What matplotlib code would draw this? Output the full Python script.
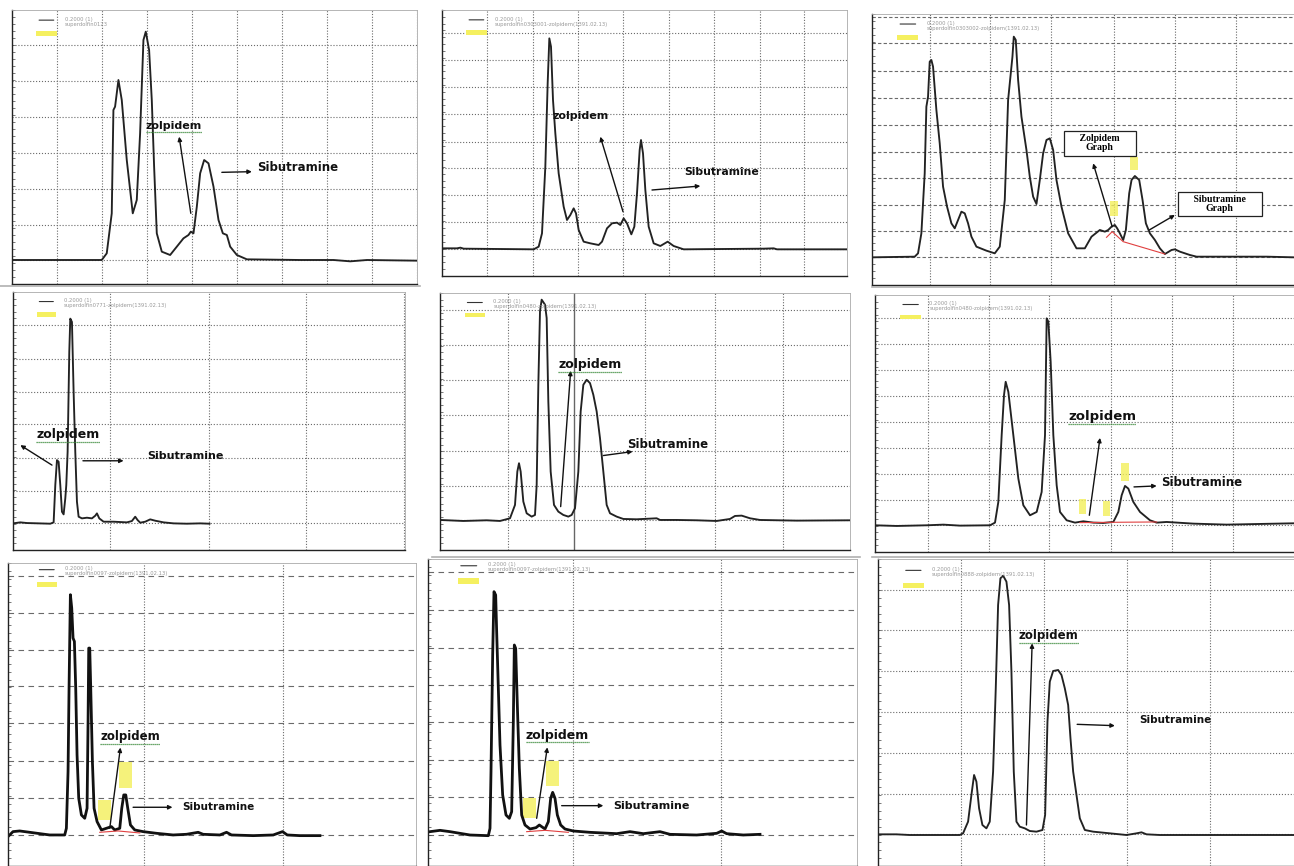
import numpy as np
import matplotlib.pyplot as plt
from matplotlib.patches import Rectangle
from matplotlib.lines import Line2D

# retention time (arbitrary units) and detector signal
t1 = [36, 305, 320, 335, 340, 345, 355, 365, 380, 398, 410, 420, 430, 437, 447, 455, 462, 470, 485, 510,
      530, 550, 565, 572, 580, 590, 600, 612, 625, 640, 655, 668, 680, 690, 710, 740, 900, 1000, 1050, 1100, 1250]
s1 = [0, 0, 20, 140, 450, 460, 540, 480, 300, 140, 180, 380, 660, 685, 630, 480, 280, 80, 25, 15,
      40, 65, 75, 85, 80, 160, 260, 300, 290, 220, 120, 80, 75, 40, 15, 2, 0, 0, -4, 0, -2]

t2 = [35, 80, 90, 100, 310, 325, 335, 345, 352, 357, 362, 368, 375, 385, 400, 410, 420, 430, 437, 445,
      460, 480, 505, 515, 530, 545, 560, 570, 580, 590, 603, 612, 620, 628, 632, 638, 645, 655, 670, 690,
      712, 730, 760, 1000, 1030, 1040, 1250]
s2 = [3, 3, 5, 2, 0, 8, 48, 248, 498, 633, 608, 448, 348, 228, 128, 88, 103, 123, 108, 58,
      23, 18, 13, 23, 63, 78, 80, 73, 93, 78, 45, 68, 168, 298, 328, 288, 178, 68, 18, 10,
      23, 10, 0, 2, 3, 0, 0]

t3 = [37, 165, 175, 185, 195, 200, 205, 210, 215, 220, 230, 240, 250, 262, 275, 285, 295, 305, 315, 325,
      335, 350, 380, 405, 420, 435, 445, 450, 458, 462, 468, 475, 485, 500, 510, 520, 530, 540, 550, 560,
      570, 580, 590, 605, 625, 650, 675, 695, 720, 735, 745, 755, 765, 772, 780, 790, 798, 808, 815, 825,
      838, 848, 858, 870, 885, 900, 915, 935, 945, 960, 990, 1010, 1100, 1220, 1302]
s3 = [-2, 0, 10, 70, 250, 450, 480, 585, 590, 570, 440, 340, 210, 150, 100, 85, 110, 135, 130, 100,
      60, 30, 18, 10, 30, 170, 470, 520, 600, 660, 650, 530, 420, 320, 240, 180, 158, 230, 310, 350,
      355, 320, 230, 150, 70, 25, 25, 60, 80, 75, 80, 90, 95, 85, 70, 50, 80, 190, 230, 242,
      230, 170, 100, 70, 50, 25, 8, 20, 22, 15, 5, 0, 0, 0, -2]
base3_t = [740, 757, 790, 915]
base3_s = [58, 75, 45, 8]

t4 = [38, 60, 80, 150, 160, 165, 170, 175, 180, 185, 190, 195, 198, 202, 207, 210, 215, 220, 225, 230,
      235, 245, 260, 275, 285, 290, 297, 310, 340, 380, 395, 405, 412, 420, 435, 450, 465, 490, 520, 560,
      600, 628]
s4 = [0, 3, 1, -1, 3, 115, 190, 185, 115, 35, 27, 75, 115, 215, 515, 615, 605, 395, 215, 65,
      20, 15, 17, 15, 23, 30, 15, 5, 5, 3, 7, 20, 10, 2, 5, 12, 8, 3, 0, -1,
      0, -1]

t5 = [30, 100, 170, 210, 240, 255, 262, 267, 272, 280, 290, 305, 315, 320, 325, 330, 335, 345, 350, 355,
      362, 372, 385, 400, 415, 425, 435, 445, 452, 460, 470, 480, 490, 500, 510, 520, 530, 540, 560, 580,
      620, 680, 690, 740, 800, 860, 900, 915, 935, 960, 990, 1100, 1260]
s5 = [0, -3, -1, -3, 5, 45, 145, 170, 145, 55, 20, 10, 15, 105, 405, 625, 660, 645, 605, 355,
      145, 45, 25, 15, 10, 15, 35, 145, 325, 405, 420, 410, 375, 325, 245, 145, 45, 20, 10, 3,
      2, 5, 0, 0, -1, -3, 3, 12, 13, 5, 0, -2, -1]

t6 = [45, 110, 200, 250, 300, 390, 405, 415, 425, 432, 437, 445, 460, 475, 490, 510, 530, 545, 555, 560,
      565, 572, 580, 590, 600, 620, 645, 670, 700, 730, 760, 775, 785, 795, 805, 820, 840, 870, 890, 920,
      1000, 1100, 1200, 1302]
s6 = [0, -2, 0, 2, -1, 0, 8, 70, 270, 390, 430, 400, 270, 140, 60, 30, 40, 100, 270, 620,
      610, 490, 270, 120, 40, 15, 8, 12, 8, 7, 10, 40, 90, 118, 110, 70, 40, 15, 8, 10,
      5, 2, 4, 6]
base6_t = [660, 760, 890]
base6_s = [8, 9, 10]

t7 = [25, 40, 60, 90, 150, 195, 200, 205, 208, 212, 216, 220, 224, 228, 232, 237, 245, 255, 262, 265,
      267, 270, 273, 278, 283, 292, 305, 320, 335, 345, 360, 366, 372, 378, 384, 392, 405, 430, 470, 520,
      560, 595, 610, 660, 680, 695, 760, 820, 848, 862, 900, 960]
s7 = [-5, 10, 12, 8, 0, 0, 20, 190, 440, 720, 680, 590, 580, 440, 240, 110, 60, 50, 80, 340,
      560, 560, 440, 220, 80, 40, 15, 20, 25, 15, 20, 80, 120, 120, 80, 30, 15, 10, 5, 0,
      2, 8, 2, 0, 8, 0, -2, 0, 10, 0, -2, -2]
base7_t = [300, 355, 420]
base7_s = [8, 12, 6]

t8 = [0, 30, 60, 120, 175, 180, 183, 188, 192, 197, 200, 205, 210, 218, 228, 238, 245, 250, 253, 257,
      262, 268, 275, 285, 300, 318, 328, 345, 355, 362, 368, 375, 382, 392, 405, 430, 480, 560, 600, 640,
      690, 720, 800, 860, 875, 890, 940, 990]
s8 = [10, 14, 10, 0, -2, 20, 190, 540, 730, 720, 610, 440, 270, 120, 60, 50, 70, 340, 570, 560,
      390, 200, 60, 30, 18, 22, 30, 18, 40, 110, 128, 110, 60, 30, 18, 12, 8, 4, 10, 4,
      10, 2, 0, 5, 12, 4, 0, 2]
base8_t = [290, 345, 415]
base8_s = [10, 14, 8]

t9 = [55, 110, 150, 200, 300, 310, 325, 335, 343, 350, 358, 368, 380, 390, 400, 408, 415, 422, 430, 440,
      448, 455, 462, 470, 480, 495, 510, 530, 548, 556, 563, 570, 580, 595, 605, 615, 625, 632, 640, 650,
      660, 675, 700, 750, 800, 830, 845, 860, 900, 1000, 1100, 1302]
s9 = [0, 0, -2, -2, -2, 3, 38, 118, 178, 158, 78, 28, 18, 38, 188, 438, 688, 768, 776, 758,
      688, 488, 188, 38, 23, 18, 10, 8, 13, 58, 338, 458, 490, 493, 478, 438, 388, 288, 188, 118,
      48, 13, 8, 3, -2, 3, 6, 0, -2, -2, -2, -2]

legend_names = ['superdolfin0123', 'superdolfin0303001-zolpidem(1391.02.13)',
                'superdolfin0303002-zolpidem(1391.02.13)', 'superdolfin0771-zolpidem(1391.02.13)',
                'superdolfin0480-zolpidem(1391.02.13)', 'superdolfin0480-zolpidem(1391.02.13)',
                'superdolfin0097-zolpidem(1391.02.13)', 'superdolfin0097-zolpidem(1391.02.13)',
                'superdolfin0888-zolpidem(1391.02.13)']

W, H = 1294, 866
fig = plt.figure(figsize=(W / 100, H / 100), dpi=100)
plt.rcParams['font.family'] = ['DejaVu Sans']

# thin separators left over from the montage
for x0, x1, y in [(0, 420, 286), (432, 860, 557), (872, 1294, 557), (872, 1294, 287)]:
    fig.add_artist(Line2D([x0 / W, x1 / W], [1 - y / H, 1 - y / H], color='#b0b0b0', lw=1.2))


def make_ax(box, xlim, ylim, xgrid, ygrid, dash='dotted'):
    x0, x1, y0, y1 = box
    ax = fig.add_axes([x0 / W, 1 - y1 / H, (x1 - x0) / W, (y1 - y0) / H])
    ax.set_xlim(*xlim)
    ax.set_ylim(*ylim)
    for g in xgrid:
        ax.axvline(g, color='#6a6a6a', lw=0.8, ls=(0, (1, 1.5)), zorder=0)
    for g in ygrid:
        ax.axhline(g, color='#6a6a6a', lw=0.8, ls=dash, zorder=0)
    ax.set_xticks([])
    ax.set_yticks(np.linspace(ylim[0], ylim[1], 40), minor=True)
    ax.set_yticks([])
    ax.yaxis.set_ticks_position('left')
    ax.tick_params(axis='y', which='minor', direction='in', length=2, width=0.5, color='#444444')
    for side in ['left', 'bottom']:
        ax.spines[side].set_color('#222222')
        ax.spines[side].set_linewidth(1.0)
    for side in ['top', 'right']:
        ax.spines[side].set_color('#aaaaaa')
        ax.spines[side].set_linewidth(0.6)
    return ax


def legend(ax, name, xy=(0.06, 0.975)):
    ax.annotate('', xy=(xy[0] + 0.05, xy[1] - 0.012), xytext=(xy[0], xy[1] - 0.012),
                xycoords='axes fraction',
                arrowprops=dict(arrowstyle='-', color='#333333', lw=0.8))
    ax.text(xy[0] + 0.07, xy[1], '0.2000 (1)\n' + name, transform=ax.transAxes,
            fontsize=3.8, color='#999999', va='top', ha='left', linespacing=1.0)
    ax.add_patch(Rectangle((xy[0], xy[1] - 0.07), 0.05, 0.018, transform=ax.transAxes,
                           color='#f5f060', lw=0))


underlines = []


def label(ax, text, xy, size, underline=True):
    t = ax.text(xy[0], xy[1], text, fontsize=size, fontweight='bold', ha='center',
                va='center', color='#111111')
    if underline:
        underlines.append(t)
    return t


def arrow(ax, tail, head):
    ax.annotate('', xy=head, xytext=tail,
                arrowprops=dict(arrowstyle='-|>', color='#111111', lw=1.0,
                                mutation_scale=6, shrinkA=0, shrinkB=0))


def mark(ax, center, w, h):
    ax.add_patch(Rectangle((center[0] - w / 2, center[1] - h / 2), w, h,
                           color='#f3ef5a', alpha=0.8, lw=0, zorder=1))


LW = 1.35

# ---- panel 1
ax = make_ax((12, 417, 10, 284), (36, 1250), (-72, 750),
             [170, 305, 440, 575, 710, 845, 980, 1115, 1250], [645, 537, 430, 322, 213, 105, 0])
ax.plot(t1, s1, color='#222222', lw=LW)
legend(ax, legend_names[0])
label(ax, 'zolpidem', (521, 402), 8)
arrow(ax, (572, 140), (537, 370))
label(ax, 'Sibutramine', (891, 277), 8.5, underline=False)
arrow(ax, (665, 263), (755, 265))

# ---- panel 2
ax = make_ax((442, 847, 10, 276), (35, 1250), (-80, 718),
             [170, 308, 443, 578, 715, 850, 988, 1122], [648, 568, 486, 406, 323, 243, 163, 83, 0])
ax.plot(t2, s2, color='#222222', lw=LW)
legend(ax, legend_names[1])
label(ax, 'zolpidem', (450, 401), 8, underline=False)
arrow(ax, (578, 113), (510, 338))
label(ax, 'Sibutramine', (873, 233), 7.8, underline=False)
arrow(ax, (665, 178), (810, 190))

# ---- panel 3
ax = make_ax((872, 1294, 14, 285), (37, 1302), (-85, 728),
             [210, 392, 575, 762, 945, 1128], [720, 640, 558, 477, 395, 315, 235, 155, 77, 0],
             dash=(0, (3, 2)))
ax.plot(t3, s3, color='#222222', lw=LW)
ax.plot(base3_t, base3_s, color='#e04040', lw=0.8)
legend(ax, legend_names[2])
mark(ax, (762, 145), 25, 45)
mark(ax, (822, 280), 25, 40)
bbox = dict(boxstyle='square,pad=0.35', fc='white', ec='#222222', lw=0.9)
ax.text(720, 340, '     Zolpidem     \nGraph', fontsize=7, fontweight='bold', family='Liberation Serif',
        ha='center', va='center', bbox=bbox, linespacing=1.0)
ax.text(1079, 158, '     Sibutramine     \nGraph', fontsize=7, fontweight='bold', family='Liberation Serif',
        ha='center', va='center', bbox=bbox, linespacing=0.95)
arrow(ax, (757, 90), (700, 280))
arrow(ax, (868, 80), (945, 125))

# ---- panel 4
ax = make_ax((13, 405, 292, 550), (38, 1215), (-80, 695),
             [330, 628, 918, 1212], [595, 495, 395, 297, 197, 97, 0])
ax.plot(t4, s4, color='#222222', lw=LW)
legend(ax, legend_names[3])
label(ax, 'zolpidem', (203, 268), 9)
arrow(ax, (155, 175), (60, 235))
label(ax, 'Sibutramine', (557, 202), 8, underline=False)
arrow(ax, (248, 188), (370, 188))

# ---- panel 5
ax = make_ax((440, 850, 293, 550), (30, 1260), (-90, 680),
             [235, 645, 855, 1060], [630, 523, 418, 313, 208, 103, 0])
ax.axvline(432, color='#666666', lw=1.0, zorder=0)
ax.plot(t5, s5, color='#222222', lw=LW)
legend(ax, legend_names[4])
label(ax, 'zolpidem', (480, 465), 9)
arrow(ax, (392, 40), (422, 447))
label(ax, 'Sibutramine', (712, 225), 8.5, underline=False)
arrow(ax, (520, 193), (608, 205))

# ---- panel 6
ax = make_ax((875, 1294, 295, 552), (45, 1302), (-80, 690),
             [205, 388, 568, 752, 935, 1118], [620, 543, 465, 387, 310, 232, 155, 77, 0])
ax.plot(t6, s6, color='#222222', lw=LW)
ax.plot(base6_t, base6_s, color='#e04040', lw=0.8)
legend(ax, legend_names[5])
mark(ax, (668, 55), 22, 45)
mark(ax, (740, 50), 22, 45)
mark(ax, (795, 160), 22, 55)
label(ax, 'zolpidem', (726, 327), 9.5)
arrow(ax, (688, 30), (720, 262))
label(ax, 'Sibutramine', (1026, 128), 8.5, underline=False)
arrow(ax, (822, 115), (890, 118))

# ---- panel 7
ax = make_ax((8, 416, 563, 866), (25, 1248), (-93, 815),
             [432, 850], [775, 665, 555, 445, 335, 222, 110, 0], dash=(0, (5, 4)))
ax.plot(t7, s7, color='#111111', lw=2.0)
ax.plot(base7_t, base7_s, color='#e04040', lw=0.8)
legend(ax, legend_names[6], xy=(0.07, 0.99))
mark(ax, (315, 75), 40, 60)
mark(ax, (378, 180), 40, 80)
label(ax, 'zolpidem', (391, 295), 8.5)
arrow(ax, (330, 20), (362, 262))
label(ax, 'Sibutramine', (655, 83), 7.5, underline=False)
arrow(ax, (400, 83), (518, 83))

# ---- panel 8
ax = make_ax((428, 857, 559, 866), (-6, 1281), (-93, 828),
             [430, 872], [790, 675, 562, 450, 338, 225, 113, 0], dash=(0, (5, 4)))
ax.plot(t8, s8, color='#111111', lw=2.0)
ax.plot(base8_t, base8_s, color='#e04040', lw=0.8)
legend(ax, legend_names[7], xy=(0.07, 0.99))
mark(ax, (298, 80), 40, 60)
mark(ax, (368, 185), 40, 75)
label(ax, 'zolpidem', (382, 300), 9)
arrow(ax, (320, 50), (352, 263))
label(ax, 'Sibutramine', (665, 88), 8, underline=False)
arrow(ax, (395, 88), (520, 88))

# ---- panel 9
ax = make_ax((878, 1294, 559, 866), (55, 1302), (-95, 826),
             [305, 552, 800, 1050], [733, 613, 490, 366, 243, 121, 0])
ax.plot(t9, s9, color='#222222', lw=LW)
legend(ax, legend_names[8])
label(ax, 'zolpidem', (567, 595), 8.5)
arrow(ax, (500, 28), (517, 573))
label(ax, 'Sibutramine', (947, 343), 7.5, underline=False)
arrow(ax, (652, 330), (765, 326))

# green underline below the highlighted compound names
fig.canvas.draw()
renderer = fig.canvas.get_renderer()
for t in underlines:
    bb = t.get_window_extent(renderer).transformed(fig.transFigure.inverted())
    fig.add_artist(Line2D([bb.x0, bb.x1], [bb.y0 - 0.001, bb.y0 - 0.001],
                          color='#3a8a3a', lw=0.9, ls=(0, (1, 0.6))))

fig.savefig('out.png', dpi=100)
